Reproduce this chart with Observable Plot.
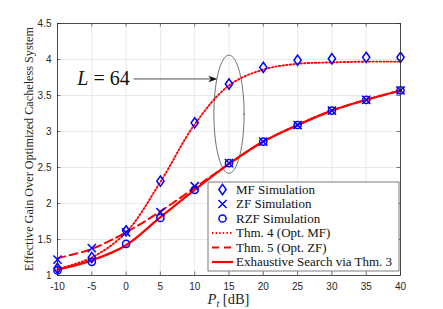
<!DOCTYPE html>
<html><head><meta charset="utf-8">
<script src="https://cdn.jsdelivr.net/npm/d3@7"></script>
<script src="https://cdn.jsdelivr.net/npm/@observablehq/plot@0.6"></script>
<style>
body{margin:0;background:#fff;}
#chart{width:443px;height:309px;}
</style>
</head><body><div id="chart"></div>
<script>
// ---- data ----
const pt = [-10, -5, 0, 5, 10, 15, 20, 25, 30, 35, 40];
const mfSim  = [1.10, 1.25, 1.62, 2.31, 3.12, 3.66, 3.89, 3.99, 4.01, 4.03, 4.03];
const zfSim  = [1.22, 1.38, 1.60, 1.88, 2.24, 2.56, 2.86, 3.09, 3.29, 3.44, 3.57];
const rzfSim = [1.07, 1.19, 1.44, 1.80, 2.19, 2.56, 2.86, 3.09, 3.29, 3.44, 3.57];
const thm4   = [1.09, 1.25, 1.60, 2.30, 3.10, 3.64, 3.86, 3.94, 3.96, 3.97, 3.97];
const thm5   = [1.24, 1.37, 1.60, 1.89, 2.22, 2.55, 2.86, 3.09, 3.29, 3.44, 3.57];
const exhaustive = [1.08, 1.21, 1.42, 1.81, 2.19, 2.55, 2.86, 3.09, 3.29, 3.44, 3.57];
const xTicks = [-10, -5, 0, 5, 10, 15, 20, 25, 30, 35, 40];
const yTicks = [1, 1.5, 2, 2.5, 3, 3.5, 4, 4.5];
const legendLabels = ["MF Simulation", "ZF Simulation", "RZF Simulation",
  "Thm. 4 (Opt. MF)", "Thm. 5 (Opt. ZF)", "Exhaustive Search via Thm. 3"];
const yLabel = "Effective Gain Over Optimized Cacheless System";
// annotation (data coordinates)
const annotText = {italic: "L", rest: " = 64", x: 0.6, y: 3.73};
const annotArrow = [{x1: 1.1, x2: 13.3, y: 3.73}];
const annotEllipse = {cx: 15, cy: 3.24, rx: 2.2, ry: 0.82};

// ---- build ----
const rows = pt.map((p, i) => ({p, mf: mfSim[i], zf: zfSim[i], rzf: rzfSim[i],
  t4: thm4[i], t5: thm5[i], ex: exhaustive[i]}));
const ellipsePts = d3.range(0, 121).map(k => {
  const t = k / 120 * 2 * Math.PI;
  return {x: annotEllipse.cx + annotEllipse.rx * Math.cos(t), y: annotEllipse.cy + annotEllipse.ry * Math.sin(t)};
});

const diamond = {draw(ctx, size) {
  const r = Math.sqrt(size / Math.PI), h = r * 1.35, w = r * 0.95;
  ctx.moveTo(0, -h); ctx.lineTo(w, 0); ctx.lineTo(0, h); ctx.lineTo(-w, 0); ctx.closePath();
}};
const arrowHead = {draw(ctx, size) {
  ctx.moveTo(0, 0); ctx.lineTo(-9, -3.3); ctx.lineTo(-6.5, 0); ctx.lineTo(-9, 3.3); ctx.closePath();
}};

const W = 443, H = 309, mL = 57, mR = 43, mT = 23, mB = 34;
const plotW = W - mL - mR, plotH = H - mT - mB;
const BLUE = "#0000ff", RED = "#ff0000", AX = "#262626", GRID = "#e3e3e3";
const sans = "'Liberation Sans', Arial, sans-serif";
const serif = "'Liberation Serif', 'Times New Roman', serif";
const DOT = "1.4,2.2";

const chart = Plot.plot({
  width: W, height: H,
  marginLeft: mL, marginRight: mR, marginTop: mT, marginBottom: mB,
  x: {domain: [-10, 40]},
  y: {domain: [1, 4.5]},
  style: {background: "#fff", fontFamily: sans},
  marks: [
    Plot.gridX(xTicks, {stroke: GRID, strokeOpacity: 1, strokeWidth: 0.8}),
    Plot.gridY(yTicks, {stroke: GRID, strokeOpacity: 1, strokeWidth: 0.8}),
    Plot.axisX({ticks: xTicks, tickSize: 0, tickPadding: 7, tickFormat: d => `${d}`, fontSize: 10, color: AX, label: null}),
    Plot.axisY({ticks: yTicks, tickSize: 0, tickPadding: 6, tickFormat: d => `${d}`, fontSize: 10, color: AX, label: null}),
    // ellipse & arrow annotation
    Plot.line(ellipsePts, {x: "x", y: "y", stroke: "#333", strokeWidth: 0.7, curve: "linear-closed"}),
    Plot.link(annotArrow, {x1: "x1", x2: d => d.x2 - 0.6, y1: "y", y2: "y", stroke: "#222", strokeWidth: 0.8}),
    Plot.dot(annotArrow, {x: "x2", y: "y", symbol: arrowHead, fill: "#111", stroke: "none", r: 3}),
    // theory curves
    Plot.line(rows, {x: "p", y: "t4", stroke: RED, strokeWidth: 1.9, strokeDasharray: DOT, curve: "catmull-rom"}),
    Plot.line(rows, {x: "p", y: "t5", stroke: RED, strokeWidth: 2, strokeDasharray: "8,4.5", curve: "catmull-rom"}),
    Plot.line(rows, {x: "p", y: "ex", stroke: RED, strokeWidth: 2.2, curve: "catmull-rom"}),
    // simulations
    Plot.dot(rows, {x: "p", y: "mf", symbol: diamond, r: 3.8, stroke: BLUE, strokeWidth: 1.5, fill: "none"}),
    Plot.dot(rows, {x: "p", y: "zf", symbol: "times", r: 3.8, stroke: BLUE, strokeWidth: 1.5}),
    Plot.dot(rows, {x: "p", y: "rzf", symbol: "circle", r: 3.6, stroke: BLUE, strokeWidth: 1.5, fill: "none"}),
    // box and inward ticks
    Plot.frame({stroke: AX, strokeWidth: 0.8}),
    Plot.ruleX(xTicks, {stroke: AX, strokeWidth: 0.6, insetTop: plotH - 3.5}),
    Plot.ruleX(xTicks, {stroke: AX, strokeWidth: 0.6, insetBottom: plotH - 3.5}),
    Plot.ruleY(yTicks, {stroke: AX, strokeWidth: 0.6, insetRight: plotW - 3.5}),
    Plot.ruleY(yTicks, {stroke: AX, strokeWidth: 0.6, insetLeft: plotW - 3.5})
  ]
});
document.getElementById("chart").appendChild(chart);

const xs = chart.scale("x"), ys = chart.scale("y");
const svg = d3.select(chart);

function serifText(sel, size) {
  return sel.style("font-family", serif).style("font-size", size + "px");
}

// L = 64 text
const lt = serifText(svg.append("text"), 20)
  .attr("x", xs.apply(annotText.x)).attr("y", ys.apply(annotText.y))
  .attr("dy", "0.35em").style("text-anchor", "end").attr("fill", "#111");
lt.append("tspan").style("font-style", "italic").text(annotText.italic);
lt.append("tspan").style("white-space", "pre").text(annotText.rest);

// y label
const yMid = (ys.apply(1) + ys.apply(4.5)) / 2;
serifText(svg.append("text"), 12.2)
  .attr("transform", `translate(29,${yMid}) rotate(-90)`)
  .style("text-anchor", "middle").attr("dy", "0.35em").attr("fill", AX)
  .text(yLabel);

// x label
const xMid = (xs.apply(-10) + xs.apply(40)) / 2;
const xl = serifText(svg.append("text"), 14.5)
  .attr("x", xMid).attr("y", 304).style("text-anchor", "middle").attr("fill", AX);
xl.append("tspan").style("font-style", "italic").text("P");
xl.append("tspan").style("font-style", "italic").style("font-size", "10px").attr("dy", 3).text("t");
xl.append("tspan").attr("dy", -3).style("white-space", "pre").text(" [dB]");

// legend
const lg = svg.append("g");
const lx0 = 208, ly0 = 182, lw = 191, lh = 89, step = 14.5, firstY = 189.5;
lg.append("rect").attr("x", lx0).attr("y", ly0).attr("width", lw).attr("height", lh)
  .attr("fill", "#fff").attr("stroke", AX).attr("stroke-width", 0.6);
const symPath = (sym, r) => d3.symbol(sym, Math.PI * r * r)();
legendLabels.forEach((lab, i) => {
  const cy = firstY + i * step, mx = 222.5;
  if (i === 0) lg.append("path").attr("d", symPath(diamond, 3.8)).attr("transform", `translate(${mx},${cy})`)
    .attr("fill", "none").attr("stroke", BLUE).attr("stroke-width", 1.5);
  if (i === 1) lg.append("path").attr("d", symPath(d3.symbolTimes, 3.8)).attr("transform", `translate(${mx},${cy})`)
    .attr("fill", "none").attr("stroke", BLUE).attr("stroke-width", 1.5);
  if (i === 2) lg.append("circle").attr("cx", mx).attr("cy", cy).attr("r", 3.6)
    .attr("fill", "none").attr("stroke", BLUE).attr("stroke-width", 1.5);
  if (i >= 3) lg.append("line").attr("x1", 212).attr("x2", 233).attr("y1", cy).attr("y2", cy)
    .attr("stroke", RED).attr("stroke-width", i === 5 ? 2.2 : 1.9)
    .attr("stroke-dasharray", i === 3 ? DOT : i === 4 ? "7,5" : null);
  serifText(lg.append("text"), 13).attr("x", 236).attr("y", cy).attr("dy", "0.33em")
    .style("text-anchor", "start").attr("fill", "#111").text(lab);
});
</script>
</body></html>
